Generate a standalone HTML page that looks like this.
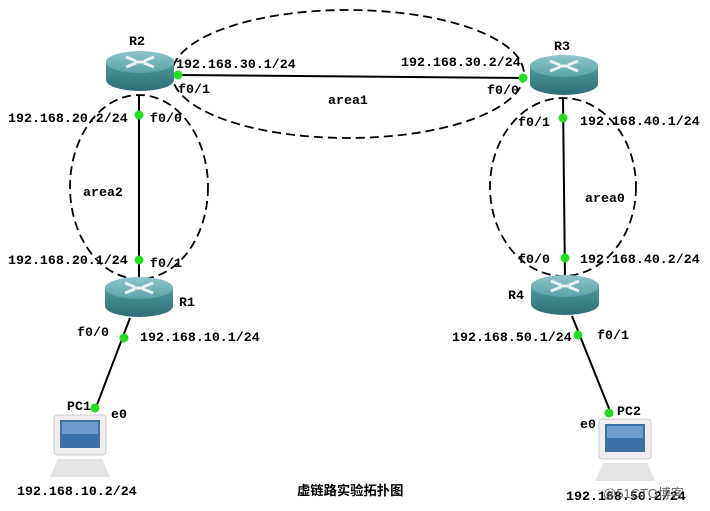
<!DOCTYPE html>
<html><head><meta charset="utf-8"><style>
html,body{margin:0;padding:0;background:#fff;width:710px;height:511px;overflow:hidden}
text{font-family:"Liberation Mono","Noto Sans CJK SC",monospace;font-weight:bold;font-size:13.3px;fill:#000}
</style></head><body>
<svg width="710" height="511" viewBox="0 0 710 511" xmlns="http://www.w3.org/2000/svg">
<defs>
<linearGradient id="rb" x1="0" y1="0" x2="0" y2="1"><stop offset="0" stop-color="#4e9aa0"/><stop offset="1" stop-color="#2e6e76"/></linearGradient>
<linearGradient id="rt" x1="0" y1="0" x2="0" y2="1"><stop offset="0" stop-color="#8cc6ca"/><stop offset="1" stop-color="#5aa2a8"/></linearGradient>
<g id="router">
<path d="M-34,-8 L-34,10 A34,11 0 0 0 34,10 L34,-8 Z" fill="url(#rb)"/>
<ellipse cx="0" cy="-8" rx="34" ry="11" fill="url(#rt)"/>
<path d="M-14,-13 L-4,-9 M14,-13 L4,-9 M-14,-3 L-4,-7 M14,-3 L4,-7 M-6,-8 L6,-8" stroke="#e8f4f4" stroke-width="3" fill="none"/>
</g>
<g id="pc">
<rect x="-26" y="-22" width="52" height="40" rx="3" fill="#eeeeee" stroke="#ccc"/>
<rect x="-20" y="-17" width="40" height="28" fill="#3d6fa8"/>
<rect x="-18" y="-15" width="36" height="12" fill="#6f9ccc"/>
<path d="M-22,22 L22,22 L30,40 L-30,40 Z" fill="#e4e4e4"/>
</g>
</defs>
<g fill="none" stroke="#000" stroke-width="1.8" stroke-dasharray="9,5">
<ellipse cx="348" cy="74" rx="176" ry="64"/>
<ellipse cx="139" cy="187" rx="69" ry="92"/>
<ellipse cx="563" cy="187" rx="73" ry="89"/>
</g>
<g stroke="#000" stroke-width="2">
<line x1="178" y1="75" x2="523" y2="78"/>
<line x1="139" y1="95" x2="139" y2="285"/>
<line x1="563" y1="98" x2="565" y2="280"/>
<line x1="130" y1="318" x2="95" y2="410"/>
<line x1="572" y1="316" x2="612" y2="416"/>
</g>
<use href="#router" x="140" y="70"/>
<use href="#router" x="564" y="74"/>
<use href="#router" x="139" y="296"/>
<use href="#router" x="565" y="294"/>
<use href="#pc" x="80" y="437"/>
<use href="#pc" x="625" y="441"/>
<g fill="#22dd22">
<circle cx="178" cy="75" r="4.5"/><circle cx="523" cy="78" r="4.5"/>
<circle cx="139" cy="115" r="4.5"/><circle cx="139" cy="260" r="4.5"/>
<circle cx="563" cy="118" r="4.5"/><circle cx="565" cy="258" r="4.5"/>
<circle cx="124" cy="338" r="4.5"/><circle cx="578" cy="335" r="4.5"/>
<circle cx="95" cy="408" r="4.5"/><circle cx="609" cy="413" r="4.5"/>
</g>
<text x="129" y="45">R2</text>
<text x="554" y="50">R3</text>
<text x="179" y="306">R1</text>
<text x="508" y="299">R4</text>
<text x="176" y="68">192.168.30.1/24</text>
<text x="178" y="93">f0/1</text>
<text x="401" y="66">192.168.30.2/24</text>
<text x="487" y="94">f0/0</text>
<text x="328" y="104">area1</text>
<text x="8" y="122">192.168.20.2/24</text>
<text x="150" y="122">f0/0</text>
<text x="83" y="196">area2</text>
<text x="8" y="264">192.168.20.1/24</text>
<text x="150" y="267">f0/1</text>
<text x="518" y="126">f0/1</text>
<text x="580" y="125">192.168.40.1/24</text>
<text x="585" y="202">area0</text>
<text x="518" y="263">f0/0</text>
<text x="580" y="263">192.168.40.2/24</text>
<text x="77" y="336">f0/0</text>
<text x="140" y="341">192.168.10.1/24</text>
<text x="452" y="341">192.168.50.1/24</text>
<text x="597" y="339">f0/1</text>
<text x="67" y="410">PC1</text>
<text x="111" y="418">e0</text>
<text x="617" y="415">PC2</text>
<text x="580" y="428">e0</text>
<text x="17" y="495">192.168.10.2/24</text>
<text x="297" y="495">虚链路实验拓扑图</text>
<text x="566" y="500">192.168.50.2/24</text>
<text x="603" y="498" style="font-weight:normal;font-family:'Liberation Sans','Noto Sans CJK SC',sans-serif;font-size:13px;fill:#666">@51CTO博客</text>
</svg>
</body></html>
